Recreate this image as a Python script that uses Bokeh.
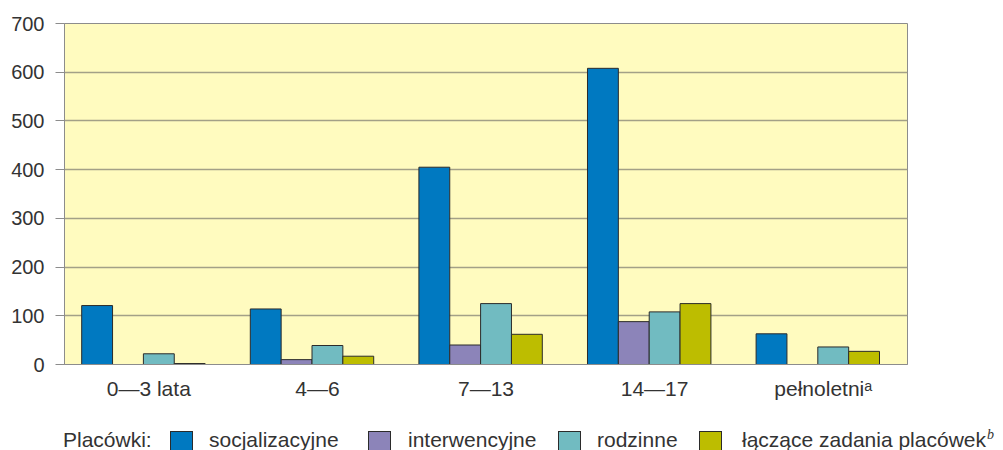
import math
import json
from bokeh.plotting import figure
from bokeh.models import (FactorRange, Range1d, ColumnDataSource, FixedTicker, Div,
                          CustomJSTickFormatter)
from bokeh.transform import dodge
from bokeh.layouts import column
from bokeh.embed import file_html
from bokeh.resources import INLINE

# ---- data ----
categories = ["0—3 lata", "4—6", "7—13", "14—17", "pełnoletni"]
category_notes = {"pełnoletni": "a"}
series_names = ["socjalizacyjne", "interwencyjne", "rodzinne", "łączące zadania placówek"]
series_notes = {"łączące zadania placówek": "b"}
socjalizacyjne = [121, 114, 405, 608, 63]
interwencyjne = [0, 10, 40, 88, 0]
rodzinne = [22, 39, 125, 108, 36]
laczace = [2, 17, 62, 125, 27]
y_ticks = [0, 100, 200, 300, 400, 500, 600, 700]
legend_title = "Placówki:"

# ---- styles ----
colors = ["#0079C1", "#8C84B9", "#71BBC1", "#BDBD00"]
bar_width = 0.183
group_shift = -0.032
offsets = [group_shift + (i - 1.5) * bar_width for i in range(4)]
FONT = "Liberation Sans"
TXT = "#333333"
GRAY = "#8c8c8c"

p = figure(
    x_range=FactorRange(*categories, range_padding=0),
    y_range=Range1d(0, 700),
    width=1003, height=405,
    output_backend="svg", toolbar_location=None,
    min_border_left=64, min_border_right=96, min_border_top=23, min_border_bottom=41,
    background_fill_color="#FFFBBF", border_fill_color="white",
    outline_line_color=GRAY, outline_line_width=1,
)

series = [socjalizacyjne, interwencyjne, rodzinne, laczace]
for vals, col, off in zip(series, colors, offsets):
    src = ColumnDataSource(dict(cat=categories,
                                top=[v if v > 0 else math.nan for v in vals]))
    p.vbar(x=dodge("cat", off, range=p.x_range), top="top", width=bar_width,
           source=src, fill_color=col, line_color="#2b2b2b", line_width=1)

p.xgrid.visible = False
p.ygrid.ticker = FixedTicker(ticks=y_ticks)
p.ygrid.grid_line_color = "#A3A087"
p.ygrid.grid_line_width = 1.5

p.yaxis.ticker = FixedTicker(ticks=y_ticks)
p.yaxis.major_tick_out = 9
p.yaxis.major_tick_in = 0
p.yaxis.minor_tick_line_color = None
p.yaxis.axis_line_color = GRAY
p.yaxis.major_tick_line_color = GRAY
p.yaxis.major_label_standoff = 11
p.yaxis.major_label_text_font_size = "20px"

p.xaxis.major_tick_out = 0
p.xaxis.major_tick_in = 0
p.xaxis.axis_line_color = GRAY
p.xaxis.major_label_standoff = 12
p.xaxis.major_label_text_font_size = "21px"

# footnote marks as superscript letters appended to the factor labels
sup = {"a": "\u1d43", "b": "\u1d47"}
label_map = {c: c + sup[n] for c, n in category_notes.items()}
p.xaxis.formatter = CustomJSTickFormatter(
    code=f"const m = {json.dumps(label_map)}; return (tick in m) ? m[tick] : tick;")

for ax in (p.xaxis[0], p.yaxis[0]):
    ax.major_label_text_font = FONT
    ax.major_label_text_color = TXT

# ---- legend strip (HTML) ----
sq_left = [170, 368, 558, 699]
txt_left = [209, 408, 597, 742]
note_left = 987
parts = [
    f'<span style="position:absolute;left:63px;top:24px;line-height:21px;">{legend_title}</span>'
]
for name, col, sl, tl in zip(series_names, colors, sq_left, txt_left):
    parts.append(
        f'<span style="position:absolute;left:{sl}px;top:26px;width:23px;height:23px;'
        f'box-sizing:border-box;background:{col};border:1px solid #2b2b2b;"></span>')
    parts.append(
        f'<span style="position:absolute;left:{tl}px;top:24px;line-height:21px;'
        f'white-space:nowrap;">{name}</span>')
    if name in series_notes:
        parts.append(
            f'<span style="position:absolute;left:{note_left}px;top:23px;line-height:14px;'
            f'font-family:\'Liberation Serif\';font-style:italic;font-size:14px;">'
            f'{series_notes[name]}</span>')
html = (f'<div style="position:relative;width:1003px;height:45px;overflow:hidden;'
        f'font-family:\'{FONT}\';font-size:21px;color:{TXT};">' + "".join(parts) + "</div>")
legend_div = Div(text=html, width=1003, height=45, margin=0)

layout = column(p, legend_div, spacing=0)
open("out.html", "w").write(file_html(layout, INLINE))
